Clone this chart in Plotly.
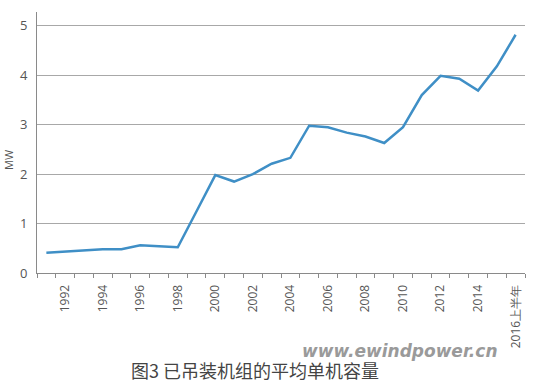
import plotly.graph_objects as go

years = list(range(1991, 2017))
capacity_mw = [0.41, 0.43, 0.46, 0.48, 0.48, 0.56, 0.54, 0.52, 1.25, 1.98,
               1.85, 2.00, 2.21, 2.33, 2.98, 2.95, 2.84, 2.76, 2.63, 2.95,
               3.60, 3.99, 3.93, 3.69, 4.18, 4.82]
tick_years = [1992, 1994, 1996, 1998, 2000, 2002, 2004, 2006, 2008, 2010, 2012, 2014, 2016]
tick_labels = ["1992", "1994", "1996", "1998", "2000", "2002", "2004", "2006",
               "2008", "2010", "2012", "2014", "2016上半年"]
y_ticks = [0, 1, 2, 3, 4, 5]

font_family = "Open Sans, DejaVu Sans, sans-serif"
grey = "#555555"

fig = go.Figure()
fig.add_trace(go.Scatter(
    x=years, y=capacity_mw, mode="lines",
    line=dict(color="#3f8fc6", width=2.5),
    showlegend=False, hoverinfo="skip"))

def px_x(px):
    return (px - 37) / 488

def px_y(py):
    return (273 - py) / 261

fig.update_layout(
    width=543, height=384,
    margin=dict(l=37, r=18, t=12, b=111),
    paper_bgcolor="white", plot_bgcolor="white",
    font=dict(family=font_family, color=grey),
    xaxis=dict(
        range=[1990.5, 2016.5], automargin=False,
        tickmode="array", tickvals=tick_years, ticktext=tick_labels,
        tickangle=-90, ticklen=0, tickfont=dict(size=12, color=grey),
        showgrid=False, zeroline=False,
        showline=True, linecolor="#8a8a8a", linewidth=1,
        minor=dict(tickmode="linear", tick0=1990.5, dtick=1,
                   ticks="outside", ticklen=4, tickcolor="#8a8a8a", showgrid=False),
        ticklabelstandoff=6,
    ),
    yaxis=dict(
        range=[0, 5.28], automargin=False,
        tickmode="array", tickvals=y_ticks,
        tickfont=dict(size=13, color=grey),
        showgrid=True, gridcolor="#a8a8a8", gridwidth=1,
        zeroline=False,
        showline=True, linecolor="#8a8a8a", linewidth=1,
        ticks="", ticklabelstandoff=6,
    ),
    annotations=[
        dict(text="MW", xref="paper", yref="paper", x=px_x(8), y=px_y(160),
             xanchor="center", yanchor="middle",
             textangle=-90, showarrow=False, font=dict(size=11, color=grey)),
        dict(text="<b><i>www.ewindpower.cn</i></b>", xref="paper", yref="paper",
             x=px_x(400), y=px_y(351), xanchor="center", yanchor="middle",
             showarrow=False,
             font=dict(size=17, color="#9a9a9a", family="DejaVu Sans, sans-serif")),
        dict(text="图3 已吊装机组的平均单机容量", xref="paper", yref="paper",
             x=px_x(255), y=px_y(370), xanchor="center", yanchor="middle",
             showarrow=False,
             font=dict(size=18, color="#444444", family="Noto Sans CJK SC, sans-serif")),
    ],
)
fig.write_html("out.html",
               config={"displayModeBar": False, "staticPlot": True},
               post_script="document.body.style.margin='0';document.body.style.overflow='hidden';")
